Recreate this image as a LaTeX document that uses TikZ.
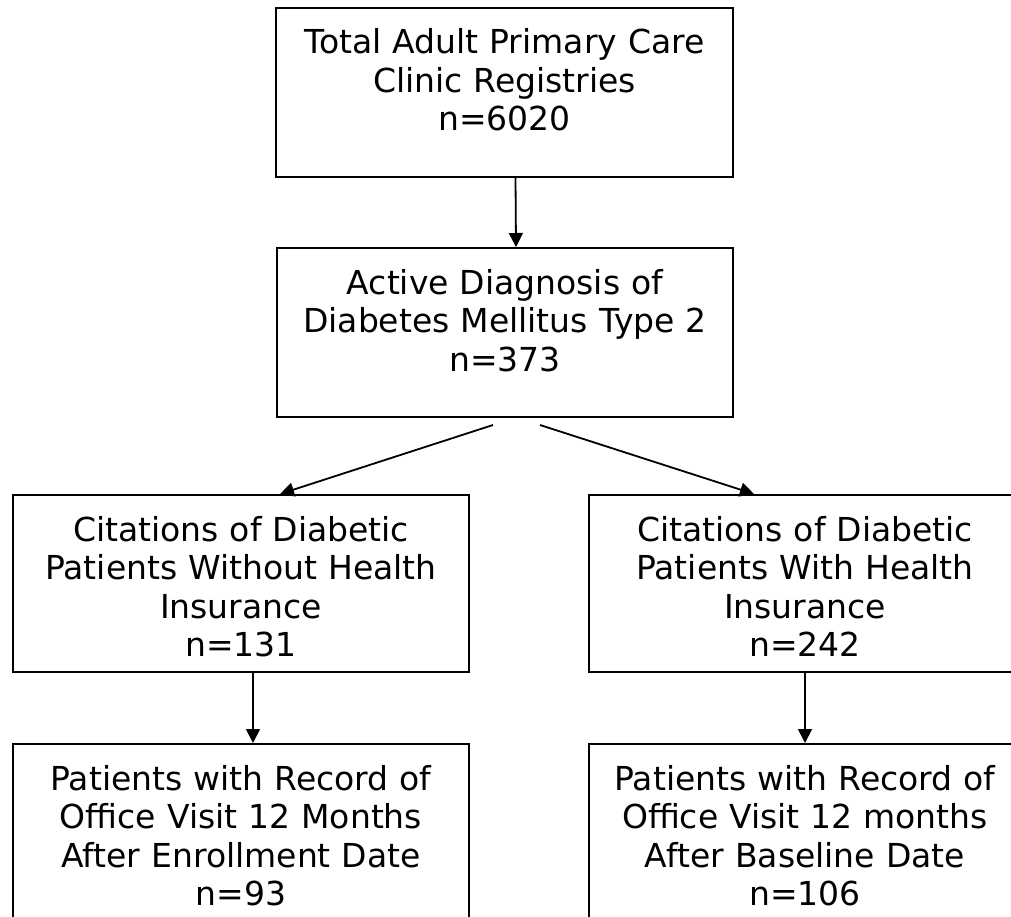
\documentclass[tikz,border=0pt]{standalone}
\usepackage{fontspec}
\setmainfont{DejaVu Sans}
\usetikzlibrary{arrows.meta}

\begin{document}
\begin{tikzpicture}[x=1pt,y=-1pt,
    box/.style={draw,line width=2pt,inner sep=0pt,anchor=north west,align=center,text height=46pt,font=\fontsize{33pt}{38.5pt}\selectfont},
    arr/.style={-{Triangle[length=14pt,width=14pt]},line width=1.8pt}]
        \clip (0,0) rectangle (1011,917);
        \node[box,text width=457pt,text depth=123pt] (total) at (275,7) {Total Adult Primary Care\\Clinic Registries\\n=6020};
        \node[box,text width=456pt,text depth=123pt] (active) at (276,247) {Active Diagnosis of\\Diabetes Mellitus Type 2\\n=373};
        \node[box,text width=456pt,text depth=131pt] (noins) at (12,494) {Citations of Diabetic\\Patients Without Health\\Insurance\\n=131};
        \node[box,text width=432pt,text depth=131pt] (ins) at (588,494) {Citations of Diabetic\\Patients With Health\\Insurance\\n=242};
        \node[box,text width=456pt,text depth=160pt] (noinsvisit) at (12,743) {Patients with Record of\\Office Visit 12 Months\\After Enrollment Date\\n=93};
        \node[box,text width=432pt,text depth=160pt] (insvisit) at (588,743) {Patients with Record of\\Office Visit 12 months\\After Baseline Date\\n=106};
        \draw[arr] ([xshift=11pt]total.south) -- ([xshift=11pt]active.north);
        \draw[arr] ([xshift=-12pt,yshift=-7pt]active.south) -- ([xshift=39pt]noins.north);
        \draw[arr] ([xshift=35pt,yshift=-7pt]active.south) -- ([xshift=-51pt]ins.north);
        \draw[arr] ([xshift=12pt]noins.south) -- ([xshift=12pt]noinsvisit.north);
        \draw[arr] (ins.south) -- (insvisit.north);
    \end{tikzpicture}
\end{document}
